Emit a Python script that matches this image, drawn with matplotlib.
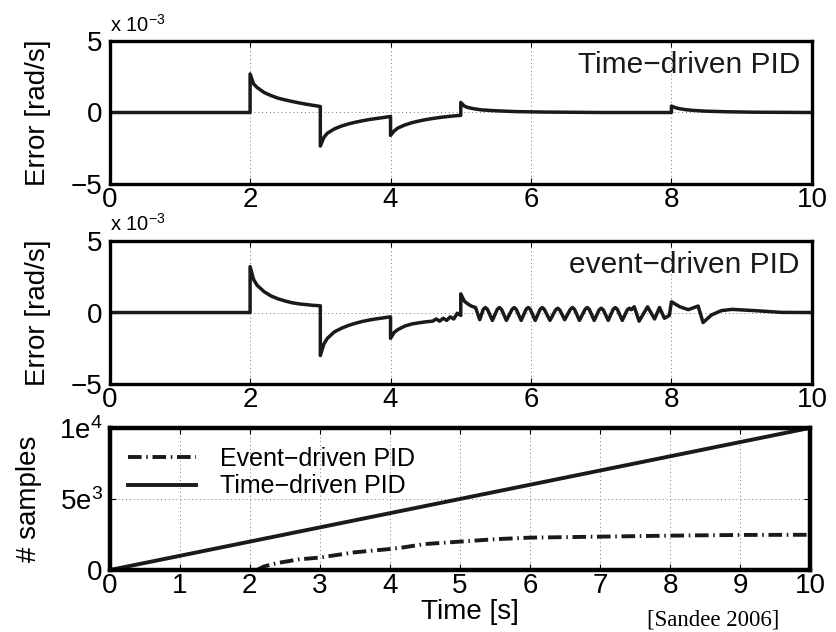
import matplotlib
matplotlib.use("Agg")
import matplotlib.pyplot as plt

plt.rcParams['font.family'] = ['Liberation Sans', 'DejaVu Sans']
plt.rcParams['mathtext.fontset'] = 'custom'
plt.rcParams['mathtext.rm'] = 'Liberation Sans'
plt.rcParams['mathtext.it'] = 'Liberation Sans'

# error of time-driven PID [x 1e-3 rad/s]
t_time = [0, 2.0, 2.0, 2.05, 2.1, 2.2, 2.3, 2.4, 2.5, 2.6, 2.7, 2.8, 2.9, 3.0,
          3.0, 3.05, 3.1, 3.2, 3.3, 3.4, 3.5, 3.6, 3.7, 3.8, 3.9, 4.0,
          4.0, 4.05, 4.1, 4.2, 4.3, 4.4, 4.5, 4.6, 4.7, 4.8, 4.9, 5.0,
          5.0, 5.05, 5.1, 5.2, 5.3, 5.5, 5.8, 6.2, 7.0, 8.0,
          8.0, 8.05, 8.1, 8.2, 8.3, 8.5, 8.8, 9.2, 10.0]
e_time = [0, 0, 2.7, 2.0, 1.75, 1.4, 1.18, 1.0, 0.88, 0.77, 0.67, 0.58, 0.5, 0.42,
          -2.35, -1.75, -1.45, -1.15, -0.95, -0.8, -0.68, -0.58, -0.49, -0.42, -0.35, -0.28,
          -1.6, -1.3, -1.1, -0.88, -0.72, -0.6, -0.5, -0.42, -0.35, -0.29, -0.24, -0.2,
          0.7, 0.45, 0.35, 0.25, 0.18, 0.12, 0.06, 0.03, 0.0, 0.0,
          0.45, 0.35, 0.28, 0.2, 0.15, 0.09, 0.05, 0.02, 0.0]

# error of event-driven PID [x 1e-3 rad/s]
t_evt = [0, 2.0, 2.0, 2.05, 2.1, 2.2, 2.3, 2.4, 2.5, 2.6, 2.7, 2.8, 2.9, 3.0,
         3.0, 3.05, 3.1, 3.2, 3.3, 3.4, 3.5, 3.6, 3.7, 3.8, 3.9, 4.0,
         4.0, 4.05, 4.1, 4.2, 4.3, 4.4, 4.5, 4.6, 4.65, 4.7, 4.75, 4.8, 4.85, 4.9, 4.95, 5.0,
         5.0, 5.05, 5.1, 5.15,
         5.21, 5.27, 5.32, 5.35, 5.38, 5.45, 5.52, 5.55, 5.58, 5.65, 5.73, 5.76, 5.79,
         5.86, 5.93, 5.96, 5.99, 6.06, 6.13, 6.16, 6.19, 6.27, 6.35, 6.38, 6.41,
         6.48, 6.56, 6.59, 6.62, 6.69, 6.77, 6.8, 6.83, 6.9, 6.97, 7.0, 7.03,
         7.1, 7.17, 7.2, 7.23, 7.3, 7.37, 7.4, 7.43, 7.47,
         7.54, 7.66, 7.76, 7.83, 7.9, 7.97, 8.0, 8.12, 8.24, 8.38, 8.45, 8.57, 8.71,
         8.86, 9.19, 9.57, 10.0]
e_evt = [0, 0, 3.2, 2.3, 1.9, 1.45, 1.15, 0.95, 0.8, 0.68, 0.6, 0.55, 0.5, 0.47,
         -3.0, -2.2, -1.8, -1.35, -1.1, -0.9, -0.75, -0.62, -0.52, -0.44, -0.37, -0.3,
         -1.8, -1.4, -1.2, -0.95, -0.8, -0.72, -0.65, -0.6, -0.45, -0.6, -0.4, -0.55, -0.3, -0.45, -0.05, -0.2,
         1.3, 0.8, 0.6, 0.45,
         0.35, -0.5, 0.22, 0.35, 0.22, -0.55, 0.22, 0.35, 0.22, -0.55, 0.22, 0.35, 0.22,
         -0.55, 0.22, 0.35, 0.22, -0.55, 0.22, 0.35, 0.22, -0.55, 0.18, 0.3, 0.18,
         -0.5, 0.22, 0.35, 0.22, -0.55, 0.22, 0.35, 0.22, -0.55, 0.18, 0.3, 0.18,
         -0.55, 0.22, 0.35, 0.22, -0.55, 0.18, 0.3, 0.2, 0.4,
         -0.6, 0.4, -0.45, 0.35, -0.4, -0.2, 0.75, 0.4, 0.2, 0.45, -0.7, -0.17, 0.13,
         0.22, 0.13, 0.01, 0.0]

# cumulative number of samples
t_samples_time = [0, 10]
n_samples_time = [0, 10000]
t_samples_evt = [2.1, 2.2, 2.4, 2.7, 3.0, 3.5, 4.0, 4.2, 4.5, 5.0, 5.5, 6.0, 7.0, 8.0, 9.0, 10.0]
n_samples_evt = [0, 250, 500, 750, 880, 1250, 1480, 1600, 1830, 2000, 2170, 2280, 2350, 2420, 2470, 2480]

fig = plt.figure(figsize=(8.37, 6.32), dpi=100)
ax1 = fig.add_axes([0.131, 0.709, 0.839, 0.226])
ax2 = fig.add_axes([0.131, 0.392, 0.839, 0.227])
ax3 = fig.add_axes([0.131, 0.098, 0.837, 0.225])

fs = 20

def style(ax, spine_w):
    for s in ax.spines.values():
        s.set_linewidth(spine_w)
    ax.tick_params(direction='in', length=4, width=0.8, labelsize=fs,
                   top=True, right=True, pad=2)
    ax.tick_params(axis='y', pad=5)
    ax.grid(True, linestyle=(0, (1, 3)), color='#777777', linewidth=0.7)

for ax, t, e, name in [(ax1, t_time, e_time, 'Time\u2212driven PID'),
                       (ax2, t_evt, e_evt, 'event\u2212driven PID')]:
    ax.plot(t, e, color='#1a1a1a', linewidth=2.5, solid_joinstyle='round')
    ax.set_xlim(0, 10)
    ax.set_ylim(-5, 5)
    ax.set_xticks([0, 2, 4, 6, 8, 10])
    ax.set_yticks([-5, 0, 5])
    ax.set_yticklabels(['\u22125', '0', '5'])
    style(ax, 2.4)
    ax.set_ylabel('Error [rad/s]', fontsize=fs)
    ax.yaxis.set_label_coords(-0.083, 0.5)
    ax.text(0.983, 0.93, name, transform=ax.transAxes, ha='right', va='top',
            fontsize=21.5, color='#1a1a1a')
    ax.text(0.0, 1.04, r'x 10$^{\mathregular{-3}}$', transform=ax.transAxes,
            ha='left', va='bottom', fontsize=14.5)

ax3.plot(t_samples_evt, n_samples_evt, color='#1a1a1a', linewidth=2.8,
         linestyle=(0, (3.5, 1.2, 0.4, 1.2)), label='Event\u2212driven PID')
ax3.plot(t_samples_time, n_samples_time, color='#1a1a1a', linewidth=2.8,
         label='Time\u2212driven PID')
ax3.set_xlim(0, 10)
ax3.set_ylim(0, 10000)
ax3.set_xticks(range(0, 11))
ax3.set_yticks([0, 5000, 10000])
ax3.set_yticklabels(['0', r'5e$^{\mathregular{3}}$', r'1e$^{\mathregular{4}}$'])
style(ax3, 3.2)
ax3.set_ylabel('# samples', fontsize=fs)
ax3.yaxis.set_label_coords(-0.097, 0.5)
ax3.set_xlabel('Time [s]', fontsize=fs, va='top')
ax3.xaxis.set_label_coords(0.514, -0.2)
ax3.legend(loc='upper left', bbox_to_anchor=(0.0, 1.0), frameon=False,
           fontsize=18, handlelength=2.7, labelspacing=0.15, borderaxespad=0.35,
           handletextpad=0.95)

fig.text(0.773, 0.019, '[Sandee 2006]', family='Liberation Serif', fontsize=16.5,
         ha='left', va='center')

fig.savefig('out.png', dpi=100)
